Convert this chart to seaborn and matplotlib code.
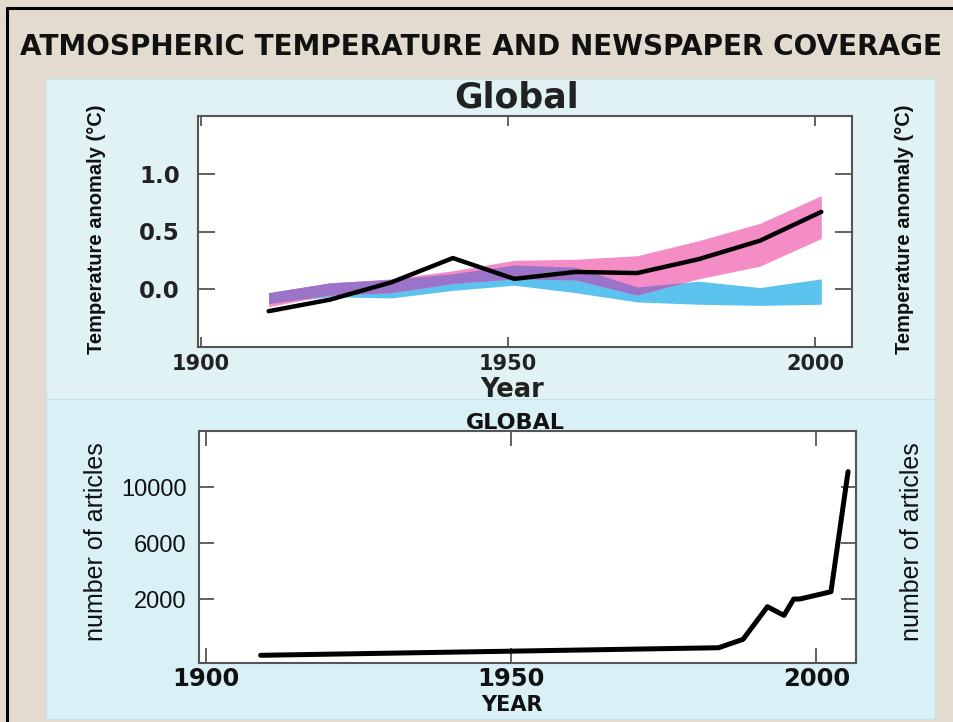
import numpy as np
import seaborn as sns
import matplotlib.pyplot as plt
from matplotlib.patches import Rectangle
from matplotlib.lines import Line2D

# --- Data ---
# top panel: decadal global temperature anomaly (deg C)
decade_years = [1911, 1921, 1931, 1941, 1951, 1961, 1971, 1981, 1991, 2001]
observed = [-0.19, -0.09, 0.06, 0.27, 0.09, 0.15, 0.14, 0.26, 0.42, 0.67]
# model band, natural + anthropogenic forcing (pink)
both_hi = [-0.03, 0.055, 0.09, 0.16, 0.25, 0.26, 0.29, 0.42, 0.57, 0.81]
both_lo = [-0.15, -0.05, -0.03, 0.05, 0.09, 0.08, -0.05, 0.09, 0.20, 0.44]
# model band, natural forcing only (blue)
natural_hi = [-0.03, 0.055, 0.085, 0.135, 0.21, 0.19, 0.02, 0.07, 0.015, 0.09]
natural_lo = [-0.125, -0.065, -0.075, -0.01, 0.035, -0.03, -0.11, -0.13, -0.14, -0.13]

# bottom panel: newspaper articles
article_years = [1909, 1984, 1988, 1992, 1994.7, 1996.3, 1997.3, 2002.4, 2005.2]
articles = [-2020, -1480, -880, 1450, 830, 2000, 2000, 2520, 11100]

year_ticks = [1900, 1950, 2000]
temp_ticks = [0.0, 0.5, 1.0]
article_ticks = [2000, 6000, 10000]

title = "ATMOSPHERIC TEMPERATURE AND NEWSPAPER COVERAGE"

# --- Style ---
sns.set_theme(style="white")
plt.rcParams["font.family"] = ["DejaVu Sans"]
BOLD = ["DejaVu Sans"]
NARROW = ["Liberation Sans Narrow", "Liberation Sans", "DejaVu Sans"]
ARIAL = ["Liberation Sans", "DejaVu Sans"]

PINK = "#f48cc6"
BLUE = "#5cc3ee"
PURPLE = "#9b74c9"
SPINE = "#555555"

W, H = 954, 722
fig = plt.figure(figsize=(W / 100, H / 100), dpi=100)
fig.patch.set_facecolor("#e3dbcf")


def box(x0, y0, x1, y1):
    # pixel box (top-left origin) -> figure fraction [l, b, w, h]
    return [x0 / W, 1 - y1 / H, (x1 - x0) / W, (y1 - y0) / H]


def px(x, y):
    return x / W, 1 - y / H


# slide background panels and frame
for b, c in [(box(46, 79, 935, 399), "#e0f2f3"), (box(46, 399, 935, 719), "#d8f0f6")]:
    fig.add_artist(Rectangle((b[0], b[1]), b[2], b[3], transform=fig.transFigure,
                             facecolor=c, edgecolor="#c4e2e8", lw=0.8, zorder=0))
fig.add_artist(Line2D([7 / W, 7 / W], [0, 1 - 8 / H], color="black", lw=2.2,
                      transform=fig.transFigure))
fig.add_artist(Line2D([7 / W, 1.01], [1 - 8 / H, 1 - 8 / H], color="black", lw=2.2,
                      transform=fig.transFigure))

fig.text(*px(20, 47), title, ha="left", va="center", fontsize=20.1,
         fontweight="bold", family=BOLD, color="#111111")

# --- Top panel: temperature ---
ax_t = fig.add_axes(box(198, 116, 852, 347))
ax_t.set_facecolor("white")
yr = np.array(decade_years)
blo, bhi = np.array(both_lo), np.array(both_hi)
nlo, nhi = np.array(natural_lo), np.array(natural_hi)
ax_t.fill_between(yr, nlo, nhi, color=BLUE, lw=0, zorder=1)
ax_t.fill_between(yr, blo, bhi, color=PINK, lw=0, zorder=2)
ov_lo, ov_hi = np.maximum(blo, nlo), np.minimum(bhi, nhi)
ax_t.fill_between(yr, ov_lo, ov_hi, where=ov_hi > ov_lo, interpolate=True,
                  color=PURPLE, lw=0, zorder=3)
sns.lineplot(x=decade_years, y=observed, color="black", lw=3.2, ax=ax_t, zorder=4)

ax_t.set_xlim(1899.5, 2006)
ax_t.set_ylim(-0.5, 1.5)
ax_t.set_xticks(year_ticks)
ax_t.set_yticks(temp_ticks)
ax_t.set_yticklabels([f"{v:.1f}" for v in temp_ticks])
ax_t.tick_params(axis="y", direction="in", length=12, width=1.3, color=SPINE,
                 left=True, right=True, pad=13, labelsize=16.5)
ax_t.tick_params(axis="x", direction="in", length=7, width=1.3, color=SPINE,
                 bottom=True, top=True, pad=5, labelsize=15)
for lab in ax_t.get_xticklabels() + ax_t.get_yticklabels():
    lab.set_fontweight("bold")
    lab.set_color("#222222")
for s in ax_t.spines.values():
    s.set_color(SPINE)
    s.set_linewidth(1.5)
ax_t.set_xlabel("")
ax_t.set_ylabel("")

fig.text(*px(517, 97), "Global", ha="center", va="center", fontsize=25,
         fontweight="bold", color="#222222")
fig.text(*px(512, 390), "Year", ha="center", va="center", fontsize=18.5,
         fontweight="bold", color="#222222")
for x in (97, 905):
    fig.text(*px(x, 229), "Temperature anomaly (°C)", rotation=90, ha="center",
             va="center", fontsize=14.5, fontweight="bold", family=NARROW,
             color="#111111")

# --- Bottom panel: newspaper articles ---
ax_b = fig.add_axes(box(199, 431, 856, 663))
ax_b.set_facecolor("white")
sns.lineplot(x=article_years, y=articles, color="black", lw=3.6, ax=ax_b)
ax_b.set_xlim(1898.9, 2006.5)
ax_b.set_ylim(-2570, 14000)
ax_b.set_xticks(year_ticks)
ax_b.set_yticks(article_ticks)
ax_b.tick_params(axis="y", direction="in", length=11, width=1.3, color=SPINE,
                 left=True, right=True, pad=9, labelsize=17)
ax_b.tick_params(axis="x", direction="in", length=11, width=1.3, color=SPINE,
                 bottom=True, top=True, pad=3, labelsize=17.5)
for lab in ax_b.get_yticklabels():
    lab.set_family(ARIAL)
    lab.set_color("#111111")
for lab in ax_b.get_xticklabels():
    lab.set_fontweight("bold")
    lab.set_color("#111111")
for s in ax_b.spines.values():
    s.set_color(SPINE)
    s.set_linewidth(1.5)
ax_b.set_xlabel("")
ax_b.set_ylabel("")

fig.text(*px(515, 423), "GLOBAL", ha="center", va="center", fontsize=16,
         fontweight="bold", color="#111111")
fig.text(*px(512, 705), "YEAR", ha="center", va="center", fontsize=15,
         fontweight="bold", color="#111111")
for x in (96, 912):
    fig.text(*px(x, 542), "number of articles", rotation=90, ha="center",
             va="center", fontsize=18, family=ARIAL, color="#111111")

fig.savefig("out.png", dpi=100, facecolor=fig.get_facecolor())
